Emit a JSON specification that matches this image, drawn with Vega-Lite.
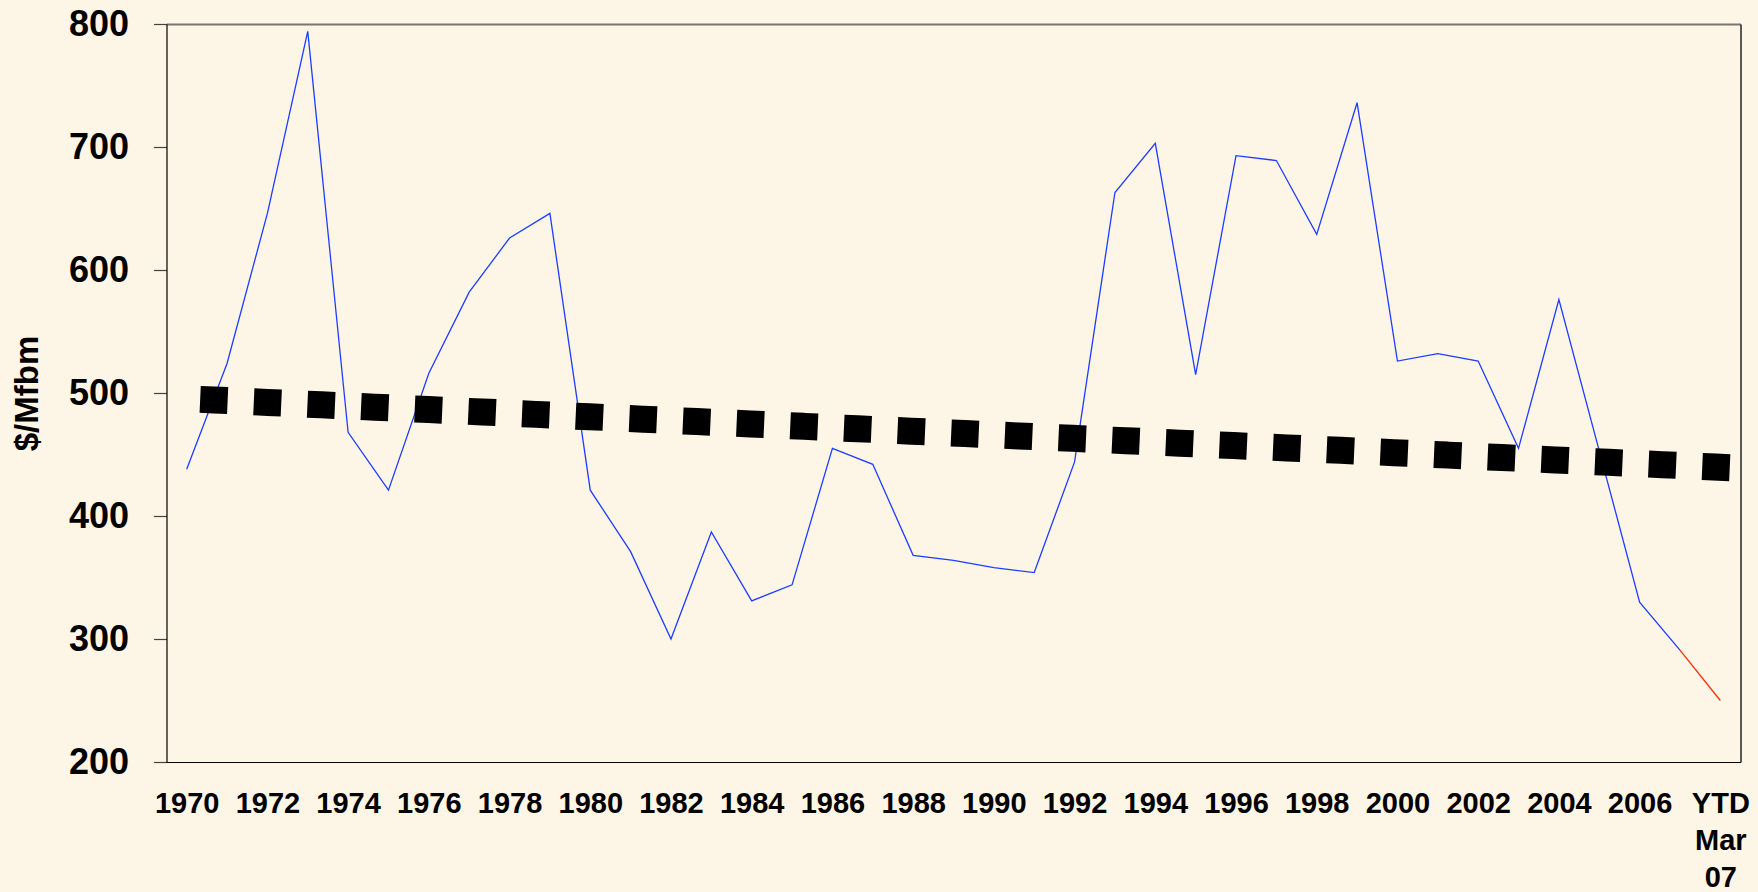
{
  "$schema": "https://vega.github.io/schema/vega-lite/v6.json",
  "width": 1574,
  "height": 738,
  "autosize": {"type": "none"},
  "padding": {"left": 166.5, "top": 24, "right": 17.5, "bottom": 130},
  "background": "#fdf5e6",
  "config": {"view": {"stroke": null}, "font": "Liberation Sans", "axis": {"grid": false}},
  "datasets": {
    "prices": [
      {"period": "1970", "price": 438, "series": "main"},
      {"period": "1971", "price": 524, "series": "main"},
      {"period": "1972", "price": 646, "series": "main"},
      {"period": "1973", "price": 794, "series": "main"},
      {"period": "1974", "price": 468, "series": "main"},
      {"period": "1975", "price": 421, "series": "main"},
      {"period": "1976", "price": 516, "series": "main"},
      {"period": "1977", "price": 582, "series": "main"},
      {"period": "1978", "price": 626, "series": "main"},
      {"period": "1979", "price": 646, "series": "main"},
      {"period": "1980", "price": 421, "series": "main"},
      {"period": "1981", "price": 371, "series": "main"},
      {"period": "1982", "price": 300, "series": "main"},
      {"period": "1983", "price": 387, "series": "main"},
      {"period": "1984", "price": 331, "series": "main"},
      {"period": "1985", "price": 344, "series": "main"},
      {"period": "1986", "price": 455, "series": "main"},
      {"period": "1987", "price": 442, "series": "main"},
      {"period": "1988", "price": 368, "series": "main"},
      {"period": "1989", "price": 364, "series": "main"},
      {"period": "1990", "price": 358, "series": "main"},
      {"period": "1991", "price": 354, "series": "main"},
      {"period": "1992", "price": 444, "series": "main"},
      {"period": "1993", "price": 663, "series": "main"},
      {"period": "1994", "price": 703, "series": "main"},
      {"period": "1995", "price": 515, "series": "main"},
      {"period": "1996", "price": 693, "series": "main"},
      {"period": "1997", "price": 689, "series": "main"},
      {"period": "1998", "price": 629, "series": "main"},
      {"period": "1999", "price": 736, "series": "main"},
      {"period": "2000", "price": 526, "series": "main"},
      {"period": "2001", "price": 532, "series": "main"},
      {"period": "2002", "price": 526, "series": "main"},
      {"period": "2003", "price": 455, "series": "main"},
      {"period": "2004", "price": 576, "series": "main"},
      {"period": "2005", "price": 453, "series": "main"},
      {"period": "2006", "price": 330, "series": "main"},
      {"period": "2007", "price": 291, "series": "main"},
      {"period": "2007", "price": 291, "series": "ytd"},
      {"period": "YTD", "price": 250, "series": "ytd"}
    ],
    "trend": [
      {"period": "1970", "trend": 495.3},
      {"period": "YTD", "trend": 439.6}
    ]
  },
  "layer": [
    {
      "data": {"name": "prices"},
      "mark": {"type": "line", "strokeWidth": 1.3},
      "encoding": {
        "x": {
          "field": "period",
          "type": "ordinal",
          "sort": null,
          "scale": {
            "type": "point",
            "padding": 0.5,
            "domain": ["1970","1971","1972","1973","1974","1975","1976","1977","1978","1979","1980","1981","1982","1983","1984","1985","1986","1987","1988","1989","1990","1991","1992","1993","1994","1995","1996","1997","1998","1999","2000","2001","2002","2003","2004","2005","2006","2007","YTD"]
          },
          "axis": {
            "orient": "bottom",
            "title": null,
            "domainColor": "#000000",
            "domainWidth": 1.2,
            "ticks": false,
            "tickSize": 0,
            "labelAngle": 0,
            "labelPadding": 27,
            "labelFontSize": 29,
            "labelFontWeight": "bold",
            "labelColor": "#000000",
            "labelBaseline": "top",
            "labelLineHeight": 37,
            "labelOverlap": false,
            "labelBound": false,
            "labelExpr": "datum.value == 'YTD' ? ['YTD', 'Mar', '07'] : (toNumber(datum.value) % 2 == 1 ? '' : datum.value)"
          }
        },
        "y": {
          "field": "price",
          "type": "quantitative",
          "scale": {"domain": [200, 800], "nice": false, "zero": false},
          "axis": {
            "orient": "left",
            "values": [200, 300, 400, 500, 600, 700, 800],
            "title": "$/Mfbm",
            "titleFontSize": 33,
            "titleFontWeight": "bold",
            "titleColor": "#000000",
            "titlePadding": 24,
            "domainColor": "#000000",
            "domainWidth": 1.2,
            "tickColor": "#444444",
            "tickSize": 13,
            "tickWidth": 1.2,
            "labelPadding": 25,
            "labelFontSize": 36,
            "labelFontWeight": "bold",
            "labelColor": "#000000",
            "labelBound": false
          }
        },
        "color": {
          "field": "series",
          "type": "nominal",
          "scale": {"domain": ["main", "ytd"], "range": ["#1f3dff", "#ff2d0a"]},
          "legend": null
        }
      }
    },
    {
      "data": {"name": "trend"},
      "mark": {
        "type": "line",
        "color": "#000000",
        "strokeWidth": 27,
        "strokeCap": "square",
        "strokeDash": [0.5, 53.2],
        "strokeDashOffset": 26.7
      },
      "encoding": {
        "x": {
          "field": "period",
          "type": "ordinal",
          "sort": null,
          "axis": {
            "orient": "top",
            "title": null,
            "labels": false,
            "ticks": false,
            "domainColor": "#7a756e",
            "domainWidth": 2
          }
        },
        "y": {
          "field": "trend",
          "type": "quantitative",
          "axis": {
            "orient": "right",
            "title": null,
            "labels": false,
            "ticks": false,
            "domainColor": "#333333",
            "domainWidth": 1.6
          }
        }
      }
    }
  ],
  "resolve": {"axis": {"x": "independent", "y": "independent"}}
}
